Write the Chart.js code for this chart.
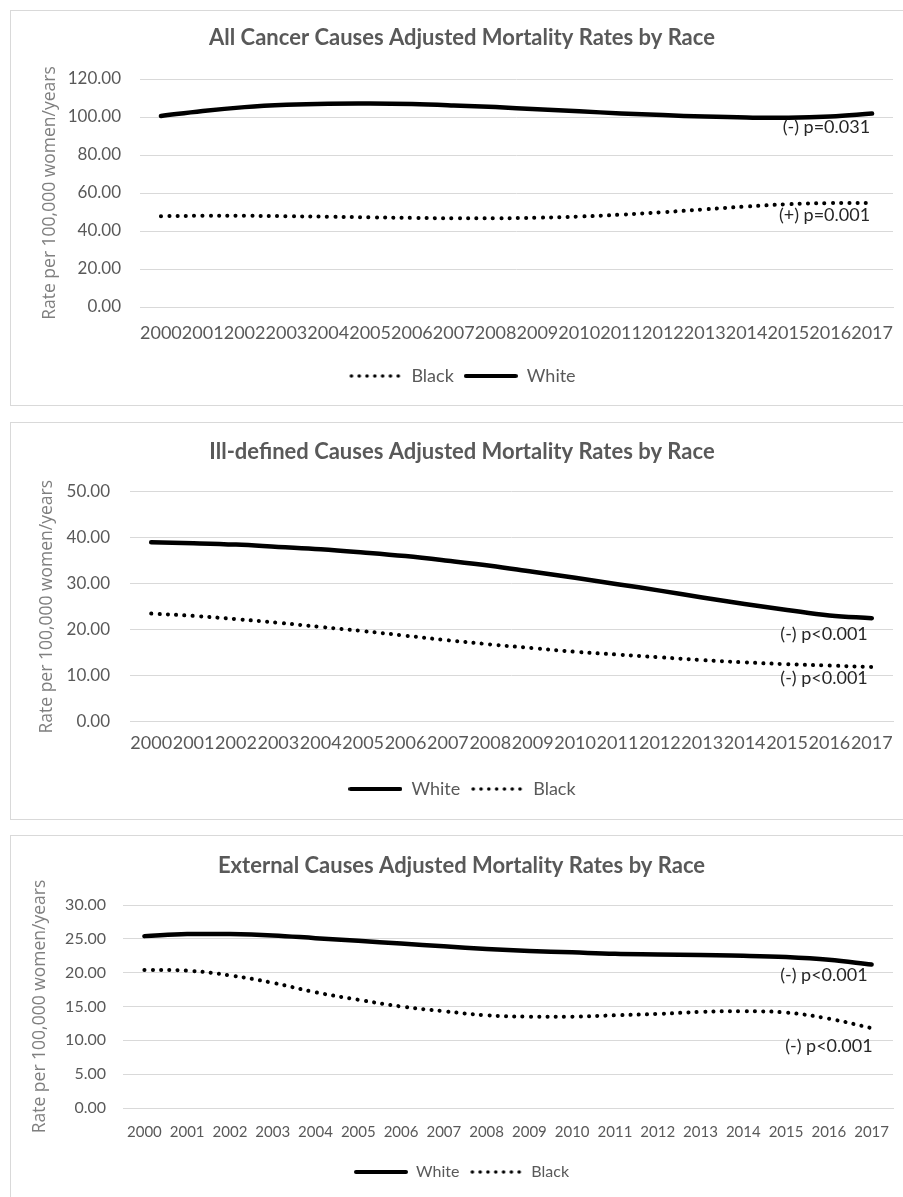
<!DOCTYPE html>
<html lang="en">
<head>
  <meta charset="UTF-8">
  <title>Adjusted Mortality Rates by Race</title>
  <script src="https://cdn.jsdelivr.net/npm/chart.js"></script>
  <style>
    body {
      background-color: #ffffff;
      margin: 0;
      padding: 0;
      width: 903px;
      height: 1197px;
      overflow: hidden;
      position: relative;
    }

    .panel {
      position: absolute;
      left: 10px;
      border: 1px solid #d9d9d9;
      background: #ffffff;
    }

    .panel canvas {
      display: block;
    }
  </style>
</head>
<body>

<div class="panel" style="top:10px; width:898px; height:394px;">
  <canvas id="cancerChart" width="898" height="394"></canvas>
</div>
<div class="panel" style="top:422px; width:898px; height:396px;">
  <canvas id="illChart" width="898" height="396"></canvas>
</div>
<div class="panel" style="top:835px; width:898px; height:370px;">
  <canvas id="externalChart" width="898" height="361"></canvas>
</div>

<script>
const years = ['2000','2001','2002','2003','2004','2005','2006','2007','2008',
               '2009','2010','2011','2012','2013','2014','2015','2016','2017'];

// All cancer causes
const cancerWhite = [100.5, 103.2, 105.2, 106.4, 107.0, 107.1, 106.8, 106.1, 105.2,
                     104.1, 103.0, 101.9, 101.0, 100.2, 99.7, 99.6, 100.3, 101.8];
const cancerBlack = [47.8, 48.0, 48.0, 47.8, 47.5, 47.2, 46.9, 46.7, 46.7,
                     47.0, 47.6, 48.6, 49.9, 51.4, 52.9, 54.1, 54.7, 54.8];

// Ill-defined causes
const illWhite = [39.0, 38.8, 38.5, 38.0, 37.5, 36.8, 36.0, 35.0, 33.9,
                  32.6, 31.3, 29.9, 28.5, 27.0, 25.6, 24.3, 23.1, 22.5];
const illBlack = [23.5, 23.0, 22.3, 21.5, 20.6, 19.7, 18.7, 17.7, 16.8,
                  16.0, 15.2, 14.6, 14.0, 13.4, 12.9, 12.5, 12.2, 11.9];

// External causes
const extWhite = [25.4, 25.7, 25.7, 25.5, 25.1, 24.7, 24.3, 23.9, 23.5,
                  23.2, 23.0, 22.8, 22.7, 22.6, 22.5, 22.3, 21.9, 21.2];
const extBlack = [20.4, 20.3, 19.6, 18.5, 17.1, 16.0, 15.0, 14.3, 13.7,
                  13.5, 13.5, 13.7, 13.9, 14.2, 14.3, 14.1, 13.2, 11.8];

const cancerNotes = { white: '(-) p=0.031', black: '(+) p=0.001' };
const illNotes = { white: '(-) p<0.001', black: '(-) p<0.001' };
const extNotes = { white: '(-) p<0.001', black: '(-) p<0.001' };

const yAxisTitle = 'Rate per 100,000 women/years';
const gray = '#595959';
const gridGray = '#d9d9d9';

// small swatch pictures for the legend
function legendSwatch(dotted) {
  const c = document.createElement('canvas');
  c.width = 54; c.height = 6;
  const g = c.getContext('2d');
  g.fillStyle = '#000';
  if (dotted) {
    for (let i = 0; i < 7; i++) {
      g.beginPath();
      g.arc(3 + i * 7.8, 3, 1.8, 0, Math.PI * 2);
      g.fill();
    }
  } else {
    g.beginPath();
    g.lineCap = 'round';
    g.lineWidth = 4;
    g.moveTo(2, 3); g.lineTo(52, 3);
    g.strokeStyle = '#000';
    g.stroke();
  }
  return c;
}
const solidSwatch = legendSwatch(false);
const dottedSwatch = legendSwatch(true);

function whiteSet(values, note, dx, dy) {
  return {
    label: 'White', data: values, borderColor: '#000', backgroundColor: '#000',
    borderWidth: 4.5, borderCapStyle: 'round', tension: 0.4, pointRadius: 0,
    pointStyle: solidSwatch, note: note, noteDx: dx, noteDy: dy
  };
}

function blackSet(values, note, dx, dy) {
  return {
    label: 'Black', data: values, borderColor: '#000', backgroundColor: '#000',
    borderWidth: 4, borderCapStyle: 'round', borderDash: [0.1, 8.2], tension: 0.4,
    pointRadius: 0, pointStyle: dottedSwatch, note: note, noteDx: dx, noteDy: dy
  };
}

// writes the p-value text next to the last point of a series
const endNotes = {
  id: 'endNotes',
  afterDatasetsDraw(chart) {
    const ctx = chart.ctx;
    chart.data.datasets.forEach((ds, i) => {
      if (!ds.note) return;
      const pts = chart.getDatasetMeta(i).data;
      const p = pts[pts.length - 1];
      ctx.save();
      ctx.font = '18px Lato';
      ctx.fillStyle = '#262626';
      ctx.textAlign = 'right';
      ctx.textBaseline = 'middle';
      ctx.fillText(ds.note, p.x + ds.noteDx, p.y + ds.noteDy);
      ctx.restore();
    });
  }
};

function makeChart(id, p) {
  return new Chart(document.getElementById(id).getContext('2d'), {
    type: 'line',
    data: { labels: years, datasets: p.datasets },
    plugins: [endNotes],
    options: {
      responsive: false,
      animation: false,
      layout: { padding: { left: p.left, right: 16, top: 0, bottom: p.bottomPad } },
      plugins: {
        title: {
          display: true, text: p.title, color: gray,
          font: { family: 'Lato', size: 22, weight: 'bold' },
          padding: p.titlePad
        },
        legend: {
          position: 'bottom',
          labels: {
            usePointStyle: true, pointStyleWidth: 54, padding: 10,
            color: gray, font: { family: 'Lato', size: p.legendSize }
          }
        },
        tooltip: { enabled: false }
      },
      scales: {
        x: {
          offset: true,
          grid: { display: false, drawTicks: false },
          border: { display: true, color: gridGray, width: 1 },
          ticks: {
            color: gray, padding: p.xTickPad, maxRotation: 0, autoSkip: false,
            font: { family: 'Lato', size: p.xSize }
          },
          afterFit: s => { s.height = p.xHeight; }
        },
        y: {
          min: 0, max: p.yMax,
          grid: { color: gridGray, lineWidth: 1, drawTicks: false },
          border: { display: false },
          ticks: {
            stepSize: p.yStep, color: gray, padding: p.yTickPad,
            font: { family: 'Lato', size: p.ySize },
            callback: v => Number(v).toFixed(2)
          },
          title: {
            display: true, text: yAxisTitle, color: '#7f7f7f',
            font: { family: 'Open Sans', size: 17.5 },
            padding: { top: p.yTitlePad, bottom: 0 }
          },
          afterFit: s => { s.width = p.yWidth; }
        }
      }
    }
  });
}

makeChart('cancerChart', {
  title: 'All Cancer Causes Adjusted Mortality Rates by Race',
  datasets: [blackSet(cancerBlack, cancerNotes.black, -2, 12),
             whiteSet(cancerWhite, cancerNotes.white, -2, 14)],
  yMax: 120, yStep: 20, left: 20, bottomPad: 10,
  titlePad: { top: 13.8, bottom: 27.8 },
  yWidth: 109, yTitlePad: 8.5, yTickPad: 19, ySize: 17,
  xHeight: 50, xTickPad: 15, xSize: 18, legendSize: 18
});

makeChart('illChart', {
  title: 'Ill-defined Causes Adjusted Mortality Rates by Race',
  datasets: [whiteSet(illWhite, illNotes.white, -4, 16),
             blackSet(illBlack, illNotes.black, -4, 11)],
  yMax: 50, yStep: 10, left: 20, bottomPad: 11,
  titlePad: { top: 15.8, bottom: 26.5 },
  yWidth: 99, yTitlePad: 5.5, yTickPad: 20, ySize: 17,
  xHeight: 48.3, xTickPad: 10.5, xSize: 18, legendSize: 18
});

makeChart('externalChart', {
  title: 'External Causes Adjusted Mortality Rates by Race',
  datasets: [whiteSet(extWhite, extNotes.white, -4, 11),
             blackSet(extBlack, extNotes.black, 1, 18)],
  yMax: 30, yStep: 5, left: 19, bottomPad: 7,
  titlePad: { top: 16.8, bottom: 25.8 },
  yWidth: 93, yTitlePad: 0, yTickPad: 17, ySize: 16,
  xHeight: 46, xTickPad: 15, xSize: 15, legendSize: 16
});
</script>

</body>
</html>
